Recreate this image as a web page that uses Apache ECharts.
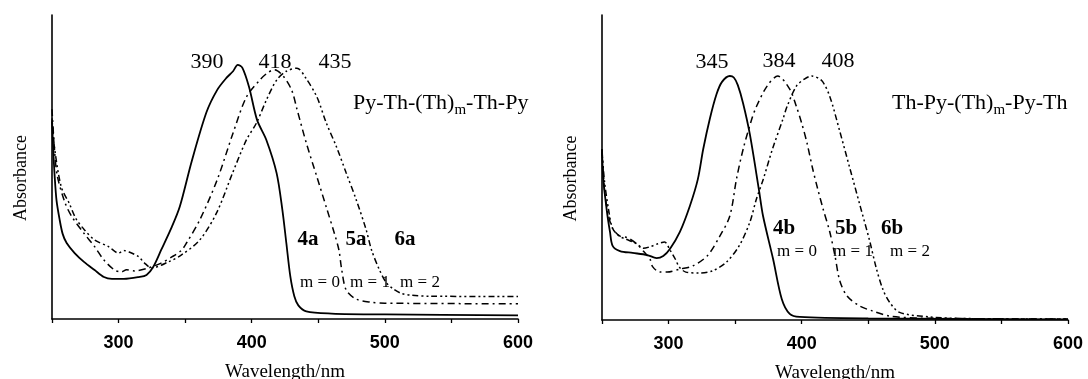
<!DOCTYPE html>
<html>
<head>
<meta charset="utf-8">
<script src="https://cdn.jsdelivr.net/npm/echarts@6/dist/echarts.min.js"></script>
<style>
html,body{margin:0;padding:0;background:#fff;}
#chart{width:1088px;height:379px;}
</style>
</head>
<body>
<div id="chart"></div>
<script>
// ---- Data (wavelength nm, relative absorbance) ----
const xTicks = [300, 400, 500, 600];
const peaksLeft = ['390', '418', '435'];
const peaksRight = ['345', '384', '408'];
const compLeft = ['4a', '5a', '6a'];
const compRight = ['4b', '5b', '6b'];
const mLabels = ['m = 0', 'm = 1', 'm = 2'];

const s4a = [[250,0.65],[251,0.55],[252,0.47],[253.4,0.39],[255.6,0.33],[258,0.28],[261,0.25],[267,0.217],[274,0.188],[282,0.161],[289,0.138],[295,0.132],[304,0.132],[315,0.138],[321,0.145],[326,0.171],[332,0.227],[340,0.303],[346,0.37],[355,0.52],[366,0.68],[374,0.753],[381,0.793],[386,0.815],[389.5,0.836],[393,0.826],[398,0.763],[404,0.655],[411,0.589],[418.7,0.48],[423,0.36],[426,0.25],[429,0.14],[432,0.075],[435,0.045],[441,0.025],[460,0.018],[500,0.015],[600,0.012]];
const s5a = [[250,0.69],[252,0.55],[254,0.47],[260,0.38],[265,0.336],[274,0.282],[282,0.238],[289,0.194],[297,0.161],[302,0.155],[306,0.162],[312,0.158],[322.5,0.168],[332,0.184],[340,0.204],[347,0.225],[351,0.25],[361,0.326],[374,0.457],[386,0.612],[396,0.73],[406,0.786],[412,0.81],[417,0.82],[423.5,0.80],[430,0.753],[434,0.69],[441,0.579],[449,0.467],[456,0.368],[462,0.283],[465.5,0.227],[467.5,0.165],[471,0.095],[478.7,0.065],[490,0.055],[500,0.052],[600,0.05]];
const s6a = [[250,0.66],[252,0.56],[257,0.434],[263,0.38],[268,0.33],[274.4,0.293],[282,0.26],[292.5,0.238],[300,0.217],[304,0.225],[307.5,0.221],[315,0.205],[319.5,0.184],[325,0.168],[337.5,0.188],[347,0.21],[361,0.26],[373.6,0.349],[385.6,0.48],[396,0.589],[403.6,0.645],[411,0.72],[418.7,0.786],[426,0.815],[434,0.825],[441,0.79],[449,0.73],[456,0.645],[463.7,0.566],[471,0.48],[478.6,0.391],[486,0.293],[490,0.227],[496,0.161],[501,0.12],[506,0.10],[512,0.085],[520,0.078],[534,0.075],[600,0.074]];

const s4b = [[250,0.56],[251,0.46],[253.75,0.354],[256,0.289],[258,0.243],[263.5,0.226],[273,0.22],[284,0.213],[291,0.203],[296,0.21],[301,0.233],[308.5,0.289],[316,0.374],[322,0.462],[326,0.56],[331,0.66],[336,0.74],[340,0.78],[346,0.80],[349,0.795],[352,0.77],[356,0.71],[361,0.61],[367.75,0.43],[371,0.34],[378.5,0.2],[385,0.069],[391,0.02],[398.5,0.01],[450,0.005],[600,0.002]];
const s5b = [[250,0.56],[252,0.42],[255,0.34],[258,0.30],[263.5,0.275],[269,0.27],[276,0.25],[281,0.226],[286,0.20],[288,0.175],[293.5,0.157],[299,0.157],[308.5,0.167],[318,0.177],[329,0.21],[338.5,0.275],[346,0.341],[351,0.462],[356,0.56],[362.5,0.659],[366,0.70],[374,0.767],[382,0.80],[391,0.757],[396,0.70],[400,0.645],[404,0.58],[408,0.50],[412,0.43],[416,0.365],[421,0.29],[425,0.21],[428.5,0.13],[434,0.079],[443.5,0.046],[453,0.03],[466,0.013],[490,0.006],[600,0.003]];
const s6b = [[250,0.55],[252,0.45],[255,0.36],[258,0.30],[263,0.275],[268,0.265],[276,0.25],[281,0.235],[286,0.24],[292,0.25],[297,0.256],[301,0.23],[305,0.2],[308,0.174],[313,0.157],[323,0.154],[333,0.161],[343.5,0.19],[353,0.243],[361,0.32],[366,0.397],[371,0.46],[378,0.56],[386,0.66],[389,0.70],[396,0.767],[402,0.79],[407.5,0.80],[415,0.785],[421,0.734],[428.5,0.62],[436,0.50],[443.5,0.38],[451,0.26],[456,0.17],[461,0.10],[466,0.058],[473.5,0.025],[496,0.01],[520,0.005],[600,0.003]];

// ---- Styles ----
const SERIF = '"Liberation Serif", "Times New Roman", serif';
const SANS = '"Liberation Sans", Arial, sans-serif';
const DASH_DOT = [7, 4, 2, 4];
const DASH_DOT_DOT = [6, 3, 2, 3, 2, 3];

function xAxisCfg(gi) {
  return {
    gridIndex: gi, type: 'value', min: 250, max: 600, interval: 50,
    axisLine: { show: true, onZero: false, lineStyle: { color: '#000', width: 1.6 } },
    axisTick: { show: true, length: 4, lineStyle: { color: '#000', width: 1.3 } },
    axisLabel: {
      margin: 15, color: '#000', fontFamily: SANS, fontWeight: 'bold', fontSize: 18,
      formatter: v => (xTicks.indexOf(v) >= 0 ? String(v) : '')
    },
    splitLine: { show: false },
    name: 'Wavelength/nm', nameLocation: 'middle', nameGap: 44,
    nameTextStyle: { fontFamily: SERIF, fontSize: 19, color: '#000' }
  };
}
function yAxisCfg(gi) {
  return {
    gridIndex: gi, type: 'value', min: 0, max: 1,
    axisLine: { show: true, lineStyle: { color: '#000', width: 1.6 } },
    axisTick: { show: false }, axisLabel: { show: false }, splitLine: { show: false },
    name: 'Absorbance', nameLocation: 'middle', nameGap: 22, nameRotate: 90,
    nameTextStyle: { fontFamily: SERIF, fontSize: 18, color: '#000', padding: [0, 22, 0, 0] }
  };
}
function line(gi, data, type, w) {
  return {
    type: 'line', xAxisIndex: gi, yAxisIndex: gi, data: data,
    showSymbol: false, smooth: 0.3,
    lineStyle: { color: '#000', width: w, type: type }, silent: true
  };
}
function txt(x, y, text, size, bold, align) {
  return {
    type: 'text', x: x, y: y, silent: true,
    style: { text: text, fill: '#000', font: (bold ? 'bold ' : '') + size + 'px ' + SERIF,
             align: align || 'center', verticalAlign: 'middle' }
  };
}
function formula(x, y, pre, post) {
  return {
    type: 'text', x: x, y: y, silent: true,
    style: {
      text: '{a|' + pre + '}{s|m}{a|' + post + '}',
      align: 'left', verticalAlign: 'middle',
      rich: {
        a: { fontFamily: SERIF, fontSize: 22, color: '#000', lineHeight: 30, verticalAlign: 'middle' },
        s: { fontFamily: SERIF, fontSize: 15, color: '#000', lineHeight: 30, verticalAlign: 'bottom' }
      }
    }
  };
}

const chart = echarts.init(document.getElementById('chart'), null, { renderer: 'canvas' });
chart.setOption({
  animation: false,
  backgroundColor: '#fff',
  grid: [
    { left: 52, right: 570, top: 15, bottom: 60, containLabel: false, outerBoundsMode: 'none' },
    { left: 602, right: 20, top: 15, bottom: 59, containLabel: false, outerBoundsMode: 'none' }
  ],
  xAxis: [xAxisCfg(0), xAxisCfg(1)],
  yAxis: [yAxisCfg(0), yAxisCfg(1)],
  series: [
    line(0, s4a, 'solid', 1.8),
    line(0, s5a, DASH_DOT, 1.5),
    line(0, s6a, DASH_DOT_DOT, 1.5),
    line(1, s4b, 'solid', 1.8),
    line(1, s5b, DASH_DOT, 1.5),
    line(1, s6b, DASH_DOT_DOT, 1.5)
  ],
  graphic: [
    txt(207, 62, peaksLeft[0], 22), txt(275, 62, peaksLeft[1], 22), txt(335, 62, peaksLeft[2], 22),
    txt(712, 62, peaksRight[0], 22), txt(779, 61, peaksRight[1], 22), txt(838, 61, peaksRight[2], 22),
    formula(353, 103, 'Py-Th-(Th)', '-Th-Py'),
    formula(892, 103, 'Th-Py-(Th)', '-Py-Th'),
    txt(308, 240, compLeft[0], 21, true), txt(356, 240, compLeft[1], 21, true), txt(405, 240, compLeft[2], 21, true),
    txt(320, 283, mLabels[0], 17), txt(370, 283, mLabels[1], 17), txt(420, 283, mLabels[2], 17),
    txt(784, 229, compRight[0], 21, true), txt(846, 229, compRight[1], 21, true), txt(892, 229, compRight[2], 21, true),
    txt(797, 252, mLabels[0], 17), txt(853, 252, mLabels[1], 17), txt(910, 252, mLabels[2], 17)
  ]
});
</script>
</body>
</html>
